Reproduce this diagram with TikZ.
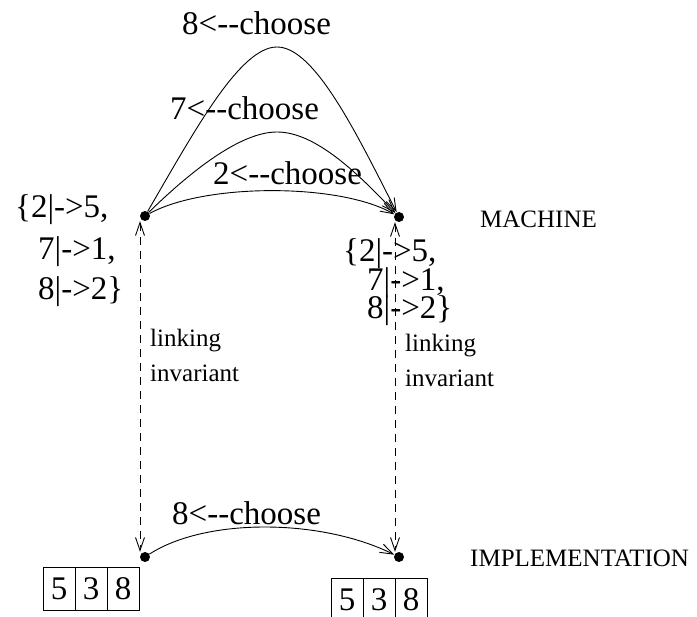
\documentclass[tikz,border=0pt]{standalone}
\usepackage{fontspec}
\setmainfont{Liberation Serif}
\newfontfamily\figserif{Liberation Serif}
\usetikzlibrary{arrows.meta}
\begin{document}
\begin{tikzpicture}[x=1pt,y=-1pt,
  big/.style={font=\figserif\fontsize{33}{40}\selectfont, inner sep=0pt, anchor=base west},
  small/.style={font=\figserif\fontsize{25}{30}\selectfont, inner sep=0pt, anchor=base west},
  state/.style={circle, fill=black, inner sep=0pt, minimum size=10pt},
  barb/.tip={Straight Barb[length=13pt,width=9pt]},
  trans/.style={draw, line width=0.9pt, -barb},
  link/.style={draw, line width=0.9pt, dash pattern=on 8pt off 6pt, barb-barb},
  cell/.style={draw, line width=0.9pt, minimum width=32pt, minimum height=43pt,
               inner sep=0pt, font=\figserif\fontsize{33}{40}\selectfont}]
\useasboundingbox (0,0) rectangle (697,617);

% states
\node[state] (lt) at (145,216) {};
\node[state] (rt) at (399,217) {};
\node[state] (lb) at (145,557) {};
\node[state] (rb) at (399,557) {};

% machine transitions
\draw[trans] (lt) .. controls (195,130) and (240,47) .. (277,47)
                  .. controls (314,47) and (355,130) .. (rt);
\draw[trans] (lt) .. controls (190,172) and (240,132) .. (277,132)
                  .. controls (314,132) and (355,170) .. (rt);
\draw[trans] (lt) .. controls (205,183) and (340,183) .. (rt);
\node[big] (c8) at (182,35) {8<-{}-choose};
\node[big] (c7) at (170,120) {7<-{}-choose};
\node[big] (c2) at (213,185) {2<-{}-choose};

% implementation transition
\draw[trans] (lb) .. controls (205,518) and (320,518) .. (rb);
\node[big] (c8b) at (172,525) {8<-{}-choose};

% linking invariants
\draw[link] ([xshift=-5pt]lt.south) -- ([xshift=-5pt]lb.north);
\draw[link] ([xshift=-4pt]rt.south) -- ([xshift=-4pt]rb.north);
\node[small] (li1) at (150,347) {linking};
\node[small] (li2) at (150,382) {invariant};
\node[small] (ri1) at (405,352) {linking};
\node[small] (ri2) at (405,387) {invariant};

% abstract states
\node[big] (mL1) at (15,218) {\{2|->5,};
\node[big] (mL2) at (38,260) {7|->1,};
\node[big] (mL3) at (38,300) {8|->2\}};
\node[big] (mR1) at (343,262) {\{2|->5,};
\node[big] (mR2) at (367,291) {7|->1,};
\node[big] (mR3) at (367,319) {8|->2\}};

% level labels
\node[small] (mach) at (480,228) {MACHINE};
\node[small] (impl) at (470,567) {IMPLEMENTATION};

% concrete arrays
\node[cell] (a1) at (59,588.5) {5};
\node[cell] (a2) at (91,588.5) {3};
\node[cell] (a3) at (123,588.5) {8};
\node[cell] (b1) at (347,599.5) {5};
\node[cell] (b2) at (379,599.5) {3};
\node[cell] (b3) at (411,599.5) {8};
\end{tikzpicture}
\end{document}
